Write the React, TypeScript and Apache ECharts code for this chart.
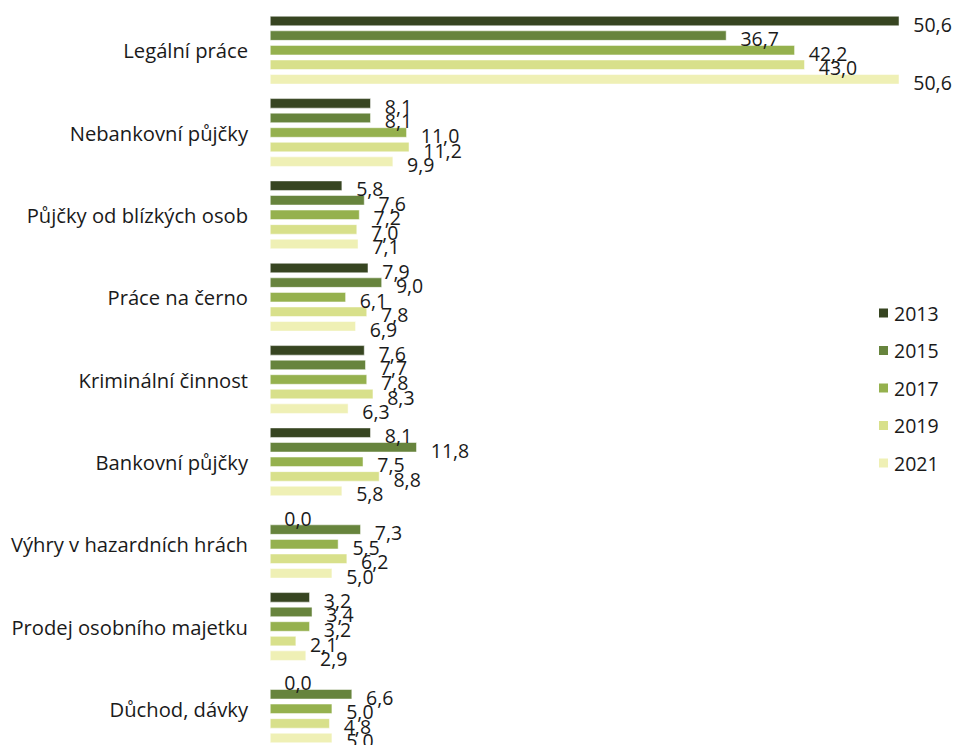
import React, { useEffect, useRef } from "react";
import * as echarts from "echarts";

const categories = [
  "Legální práce",
  "Nebankovní půjčky",
  "Půjčky od blízkých osob",
  "Práce na černo",
  "Kriminální činnost",
  "Bankovní půjčky",
  "Výhry v hazardních hrách",
  "Prodej osobního majetku",
  "Důchod, dávky",
];

const seriesNames = ["2013", "2015", "2017", "2019", "2021"];

const v2013 = [50.6, 8.1, 5.8, 7.9, 7.6, 8.1, 0.0, 3.2, 0.0];
const v2015 = [36.7, 8.1, 7.6, 9.0, 7.7, 11.8, 7.3, 3.4, 6.6];
const v2017 = [42.2, 11.0, 7.2, 6.1, 7.8, 7.5, 5.5, 3.2, 5.0];
const v2019 = [43.0, 11.2, 7.0, 7.8, 8.3, 8.8, 6.2, 2.1, 4.8];
const v2021 = [50.6, 9.9, 7.1, 6.9, 6.3, 5.8, 5.0, 2.9, 5.0];

const seriesValues = [v2013, v2015, v2017, v2019, v2021];
const colors = ["#374521", "#67843d", "#95b14e", "#d8e08b", "#eff0b5"];

const FONT = "'Open Sans', 'Noto Sans', sans-serif";
const FS = 19.5;
const FS_CAT = 20.2;

export default function App() {
  const ref = useRef<HTMLDivElement>(null);
  useEffect(() => {
    if (!ref.current) return;
    const chart = echarts.init(ref.current, null, { renderer: "svg" });
    chart.setOption({
      animation: false,
      backgroundColor: "#ffffff",
      grid: { left: 270, top: 9, width: 685, height: 741, containLabel: false },
      legend: {
        orient: "vertical",
        left: 872,
        top: 298,
        itemWidth: 11,
        itemHeight: 11,
        itemGap: 17.5,
        icon: "rect",
        data: seriesNames,
        textStyle: { fontFamily: FONT, fontSize: FS, color: "#1a1a1a", lineHeight: 19 },
      },
      xAxis: {
        type: "value",
        min: 0,
        max: 55,
        show: false,
      },
      yAxis: {
        type: "category",
        data: categories,
        inverse: true,
        axisLine: { show: false },
        axisTick: { show: false },
        axisLabel: {
          margin: 22,
          fontFamily: FONT,
          fontSize: FS_CAT,
          color: "#1a1a1a",
        },
      },
      series: seriesNames.map((name, i) => ({
        name,
        type: "bar",
        data: seriesValues[i],
        barGap: "45%",
        barCategoryGap: "17%",
        itemStyle: { color: colors[i], borderColor: "#ffffff", borderWidth: 0.5 },
        label: {
          show: true,
          position: "right",
          distance: 14,
          offset: [0, 3],
          fontFamily: FONT,
          fontSize: FS,
          color: "#1a1a1a",
          formatter: (p: any) => Number(p.value).toFixed(1).replace(".", ","),
        },
      })),
    });
    return () => chart.dispose();
  }, []);
  return (
    <div style={{ position: "fixed", left: 0, top: 0, width: 954, height: 745, overflow: "hidden", background: "#fff" }}>
      <div ref={ref} style={{ width: 954, height: 760 }} />
    </div>
  );
}
